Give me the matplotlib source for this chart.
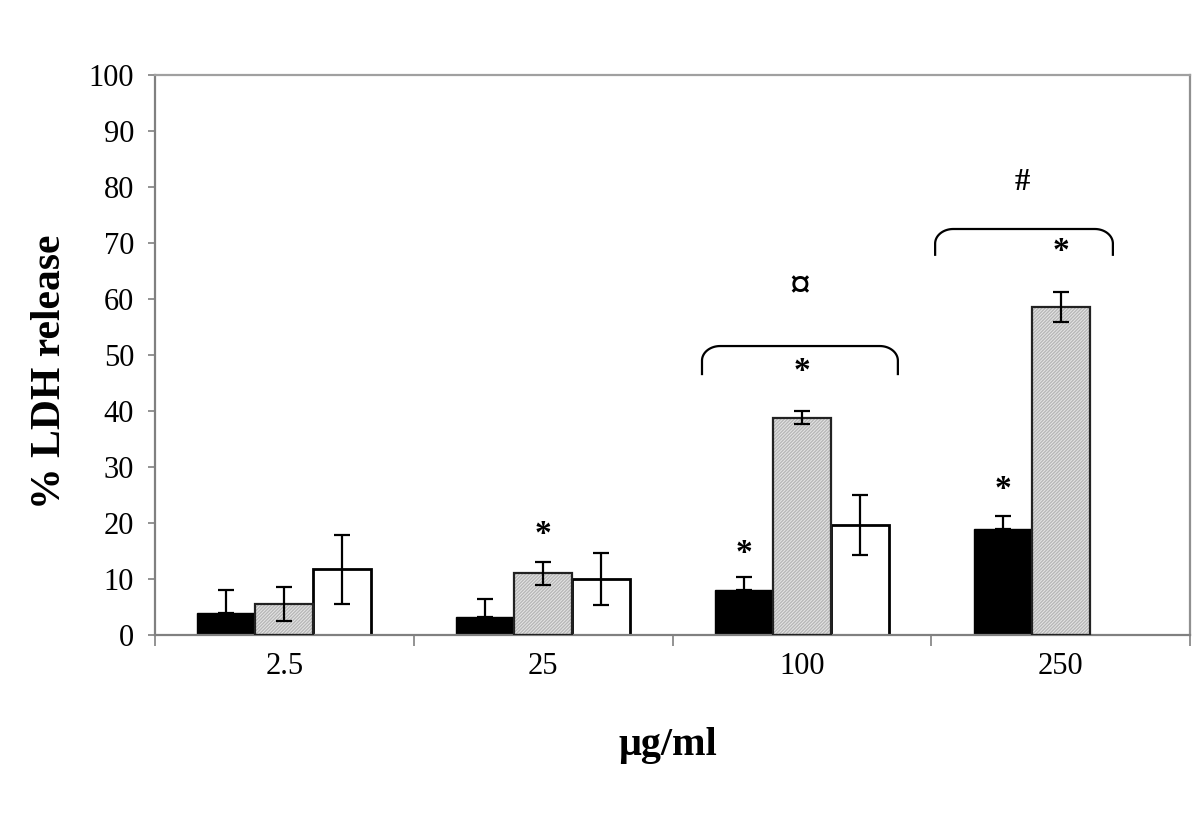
import matplotlib
matplotlib.use("Agg")
import matplotlib.pyplot as plt
import numpy as np

categories = ["2.5", "25", "100", "250"]
black_vals = [4.0, 3.3, 8.0, 19.0]
black_err = [4.0, 3.1, 2.4, 2.2]
gray_vals = [5.5, 11.0, 38.8, 58.6]
gray_err = [3.0, 2.0, 1.2, 2.7]
white_vals = [11.7, 10.0, 19.6, np.nan]
white_err = [6.1, 4.6, 5.4, np.nan]

# significance annotations: (category index, series offset index, y, text)
star_marks = [(1, 0, 18.0, "*"), (2, -1, 14.5, "*"), (2, 0, 47.0, "*"),
              (3, -1, 26.0, "*"), (3, 0, 68.5, "*")]
other_marks = [(1.993, 62.0, "¤", 30), (2.851, 80.8, "#", 22)]
brackets = [(1.614, 2.371, 51.6, 46.4), (2.515, 3.202, 72.5, 67.7)]

plt.rcParams['font.family'] = ['Liberation Serif', 'DejaVu Serif']

fig = plt.figure(figsize=(12, 8.31), dpi=100)
ax = fig.add_axes([155/1200, 1-635/831, 1035/1200, 560/831])

x = np.arange(len(categories))
w = 0.224
ekw = dict(ecolor='black', elinewidth=1.6, capsize=5.5, capthick=1.6)

ax.bar(x - w, black_vals, w, color='black', edgecolor='black', linewidth=1.0, zorder=2)
ax.bar(x, gray_vals, w, color='#e6e6e6', edgecolor='#b8b8b8', hatch='//////////', linewidth=0, zorder=2)
ax.bar(x, gray_vals, w, fill=False, edgecolor='#222222', linewidth=1.6, zorder=3)
ax.bar(x + w, white_vals, w, color='white', edgecolor='black', linewidth=2.0, zorder=2)

ax.errorbar(x - w, black_vals, yerr=[np.zeros(len(black_err)), black_err], fmt='none', zorder=4, **ekw)
ax.errorbar(x, gray_vals, yerr=gray_err, fmt='none', zorder=4, **ekw)
ax.errorbar(x + w, white_vals, yerr=white_err, fmt='none', zorder=4, **ekw)

for ci, off, yv, t in star_marks:
    ax.text(ci + off * w, yv, t, ha='center', va='center', fontsize=24, fontweight='bold', zorder=5)
for xv, yv, t, fs in other_marks:
    ax.text(xv, yv, t, ha='center', va='center', fontsize=fs, fontweight='bold', zorder=5)

for x0, x1, ytop, yend in brackets:
    rx = 0.07
    ry = 2.6
    th = np.linspace(0, np.pi/2, 20)
    lx = x0 + rx - rx*np.cos(th)
    ly = ytop - ry + ry*np.sin(th)
    rxs = x1 - rx + rx*np.cos(th[::-1])
    rys = ytop - ry + ry*np.sin(th[::-1])
    xs = np.concatenate([[x0], lx, rxs, [x1]])
    ys = np.concatenate([[yend], ly, rys, [yend]])
    ax.plot(xs, ys, color='black', lw=1.6, solid_capstyle='butt', zorder=5)

ax.set_xlim(-0.5, 3.5)
ax.set_ylim(0, 100)
ax.set_yticks(np.arange(0, 101, 10))
ax.set_xticks(x)
ax.set_xticklabels(categories)
ax.set_xticks(np.arange(-0.5, 3.6, 1.0), minor=True)
ax.tick_params(axis='x', which='major', length=0, pad=12, labelsize=22)
ax.tick_params(axis='x', which='minor', length=8, width=1.2, color='#808080', direction='out')
ax.tick_params(axis='y', length=5, width=1.2, color='#808080', direction='out', pad=10, labelsize=22)

for s in ax.spines.values():
    s.set_color('#808080')
    s.set_linewidth(1.6)
ax.spines['top'].set_color('#a0a0a0')
ax.spines['right'].set_color('#909090')

fig.text(50/1200, 1-372/831, "% LDH release", rotation=90, ha='center', va='center',
         fontsize=30, fontweight='bold')
fig.text(668/1200, 1-745/831, "μg/ml", ha='center', va='center',
         fontsize=29, fontweight='bold')

fig.savefig("out.png", dpi=100)
